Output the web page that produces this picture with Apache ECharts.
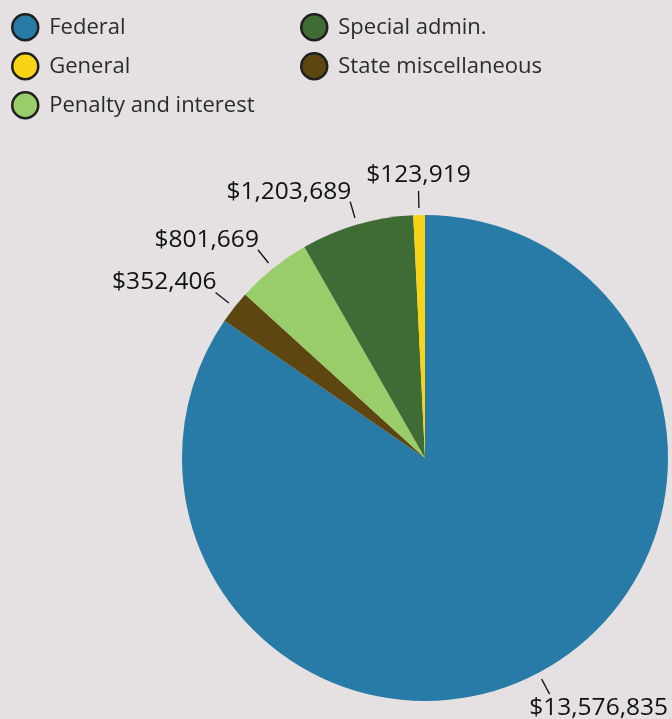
<!DOCTYPE html>
<html><head><meta charset="utf-8">
<script src="https://cdn.jsdelivr.net/npm/echarts@6/dist/echarts.min.js"></script>
<style>html,body{margin:0;padding:0;background:#e5e1e2;}#c{width:672px;height:719px;}</style>
</head><body><div id="c"></div>
<script>
// Data (pie order clockwise from 12 o'clock)
var categories = ['Federal', 'State miscellaneous', 'Penalty and interest', 'Special admin.', 'General'];
var values = [13576835, 352406, 801669, 1203689, 123919];
var colors = ['#277ba6', '#5e4610', '#98cd6a', '#3f6b35', '#f8d316'];
var legendCol1 = ['Federal', 'General', 'Penalty and interest'];
var legendCol2 = ['Special admin.', 'State miscellaneous'];

var W = 672, CX = 425, CY = 458, R = 243;
var chart = echarts.init(document.getElementById('c'), null, {renderer: 'canvas'});
var fontFam = '"Open Sans", "Noto Sans", sans-serif';

function fmt(v) { return '$' + v.toLocaleString('en-US'); }

var legendBase = {
  orient: 'vertical', icon: 'circle', itemWidth: 26, itemHeight: 26, itemGap: 10.5,
  padding: 0,
  itemStyle: {borderColor: '#1f1f1f', borderWidth: 2.5},
  textStyle: {fontFamily: fontFam, fontSize: 22, color: '#2b2b2b', padding: [0, 0, 0, 6]},
  selectedMode: false
};

chart.setOption({
  backgroundColor: '#e5e1e2',
  animation: false,
  legend: [
    Object.assign({}, legendBase, {left: 11, top: 13, data: legendCol1}),
    Object.assign({}, legendBase, {left: 300, top: 13, data: legendCol2})
  ],
  series: [{
    type: 'pie',
    center: [CX, CY],
    radius: R,
    startAngle: 90,
    clockwise: true,
    silent: true,
    avoidLabelOverlap: false,
    data: categories.map(function (c, i) {
      return {name: c, value: values[i], itemStyle: {color: colors[i]}};
    }),
    label: {
      show: true, position: 'outside',
      formatter: function (p) { return fmt(p.value); },
      fontFamily: fontFam, fontSize: 24.5, color: '#111'
    },
    labelLine: {show: true, length: 15, length2: 0, lineStyle: {color: '#111', width: 1.3}},
    labelLayout: function (p) {
      var p0 = p.labelLinePoints[0];
      var dx = p0[0] - CX, dy = p0[1] - CY;
      var d = Math.sqrt(dx * dx + dy * dy);
      var ux = dx / d, uy = dy / d;
      var s = [CX + ux * (R + 7), CY + uy * (R + 7)];
      var e = [CX + ux * (R + 24), CY + uy * (R + 24)];
      var tw = p.labelRect.width;
      var res = {labelLinePoints: [s, e, e], verticalAlign: 'middle'};
      if (Math.abs(ux) < 0.1 && uy < 0) {
        res.align = 'center'; res.x = e[0]; res.y = e[1] - 16;
      } else if (uy > 0.3) {
        res.align = 'right'; res.x = Math.min(e[0] + tw, W - 4); res.y = e[1] + 14;
      } else if (ux < 0) {
        res.align = 'right'; res.x = e[0] + 1; res.y = e[1] - 10;
      } else {
        res.align = 'left'; res.x = e[0]; res.y = e[1] - 10;
      }
      return res;
    }
  }]
});
</script></body></html>
